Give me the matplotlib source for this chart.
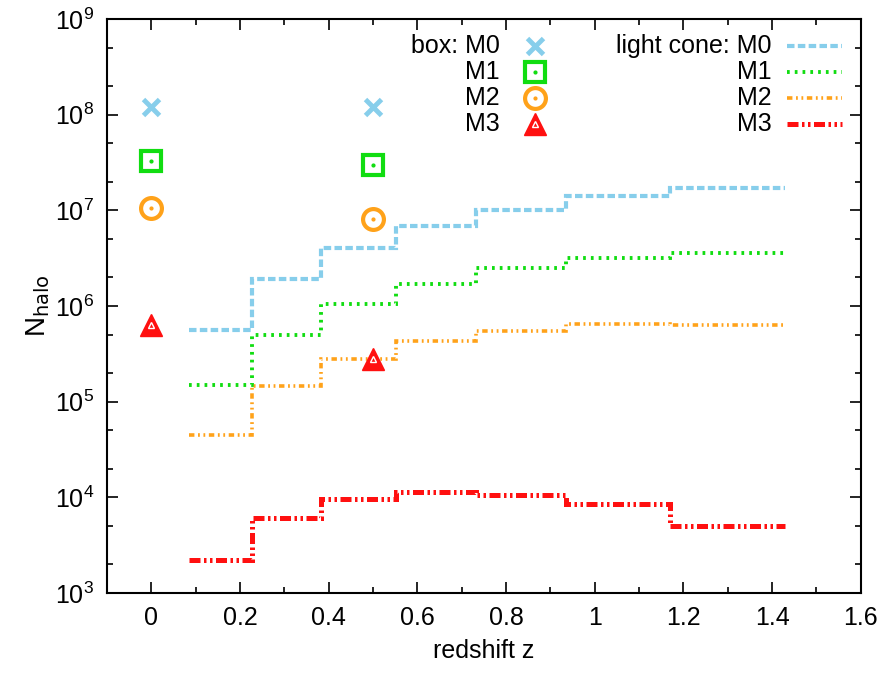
import numpy as np
import matplotlib
matplotlib.use("Agg")
from matplotlib import pyplot as plt
from matplotlib.ticker import LogLocator, MultipleLocator, NullFormatter

plt.rcParams['font.family'] = ['Liberation Sans', 'DejaVu Sans']

# simulation box snapshots
box_z = [0.0, 0.5]
box_M0 = [1.2e8, 1.2e8]
box_M1 = [3.3e7, 3.0e7]
box_M2 = [1.05e7, 8.2e6]
box_M3 = [6.4e5, 2.8e5]

# light cone shells (bin edges in redshift)
cone_edges = [0.084, 0.227, 0.382, 0.552, 0.732, 0.936, 1.170, 1.430]
cone_M0 = [5.6e5, 1.9e6, 4.0e6, 6.8e6, 1.0e7, 1.4e7, 1.7e7]
cone_M1 = [1.5e5, 5.0e5, 1.05e6, 1.7e6, 2.5e6, 3.2e6, 3.6e6]
cone_M2 = [4.5e4, 1.45e5, 2.8e5, 4.3e5, 5.5e5, 6.5e5, 6.4e5]
cone_M3 = [2.2e3, 6.1e3, 9.6e3, 1.15e4, 1.07e4, 8.6e3, 5.0e3]

c0, c1, c2, c3 = '#87ceeb', '#11dd11', '#ffa21a', '#ff1010'

cone_styles = [
    (cone_M0, c0, (0, (1.8, 0.8)), 3.0),
    (cone_M1, c1, (0, (0.7, 1.3)), 2.8),
    (cone_M2, c2, (0, (1.5, 1.0, 0.5, 1.0, 0.5, 1.0)), 2.6),
    (cone_M3, c3, (0, (2.2, 0.7, 0.5, 0.7, 0.5, 0.7)), 3.6),
]

fig = plt.figure(figsize=(8.91, 6.77), dpi=100)
ax = fig.add_axes([0.120, 0.124, 0.846, 0.848])

for vals, col, ls, lw in cone_styles:
    ax.stairs(vals, cone_edges, color=col, linestyle=ls, linewidth=lw, baseline=None)


def box_markers(ax, xs, ys, xt, yt, trans=None):
    kw = {} if trans is None else {'transform': trans}
    ax.plot(xs[0], ys[0], 'x', color=c0, ms=12, mew=3.5, ls='none', **kw)
    ax.plot(xs[1], ys[1], 's', mfc='none', mec=c1, ms=14, mew=3, ls='none', **kw)
    ax.plot(xs[1], ys[1], '.', color=c1, ms=4, ls='none', **kw)
    ax.plot(xs[2], ys[2], 'o', mfc='none', mec=c2, ms=15, mew=3, ls='none', **kw)
    ax.plot(xs[2], ys[2], '.', color=c2, ms=4, ls='none', **kw)
    ax.plot(xt, yt, '^', color=c3, ms=16, mew=1, ls='none', **kw)
    ax.plot(xt, yt, '^', mfc='none', mec='white', ms=5, mew=1, ls='none', **kw)


box_markers(ax, [box_z, box_z, box_z], [box_M0, box_M1, box_M2], box_z, box_M3)

# keys
rows = [0.953, 0.908, 0.862, 0.817]
fs = 18
left_labels = ['box: M0', 'M1', 'M2', 'M3']
right_labels = ['light cone: M0', 'M1', 'M2', 'M3']
for i, y in enumerate(rows):
    ax.text(0.521, y, left_labels[i], transform=ax.transAxes, ha='right', va='center', fontsize=fs)
    ax.text(0.882, y, right_labels[i], transform=ax.transAxes, ha='right', va='center', fontsize=fs)
    vals, col, ls, lw = cone_styles[i]
    ax.plot([0.902, 0.975], [y, y], transform=ax.transAxes, color=col, linestyle=ls, linewidth=lw)
box_markers(ax, [[0.568], [0.568], [0.568]], [[rows[0]], [rows[1]], [rows[2]]],
            [0.568], [rows[3]], trans=ax.transAxes)

ax.set_yscale('log')
ax.set_xlim(-0.1, 1.6)
ax.set_ylim(1e3, 1e9)
ax.set_xticks(np.arange(0, 1.61, 0.2))
ax.set_xticklabels(['0', '0.2', '0.4', '0.6', '0.8', '1', '1.2', '1.4', '1.6'])
ax.xaxis.set_minor_locator(MultipleLocator(0.1))
ax.xaxis.set_minor_formatter(NullFormatter())
ax.yaxis.set_major_locator(LogLocator(base=10, numticks=10))
ax.yaxis.set_minor_locator(LogLocator(base=10, subs=(2, 5), numticks=20))
ax.yaxis.set_minor_formatter(NullFormatter())

ax.tick_params(which='both', direction='in', top=True, right=True, labelsize=fs, width=1.2)
ax.tick_params(which='major', length=8, pad=9)
ax.tick_params(which='minor', length=4)
for sp in ax.spines.values():
    sp.set_linewidth(1.5)

ax.set_xlabel('redshift z', fontsize=fs, labelpad=7)
ax.set_ylabel(r'N$_{\mathrm{halo}}$', fontsize=fs + 2, labelpad=2)

fig.savefig('out.png', dpi=100)
